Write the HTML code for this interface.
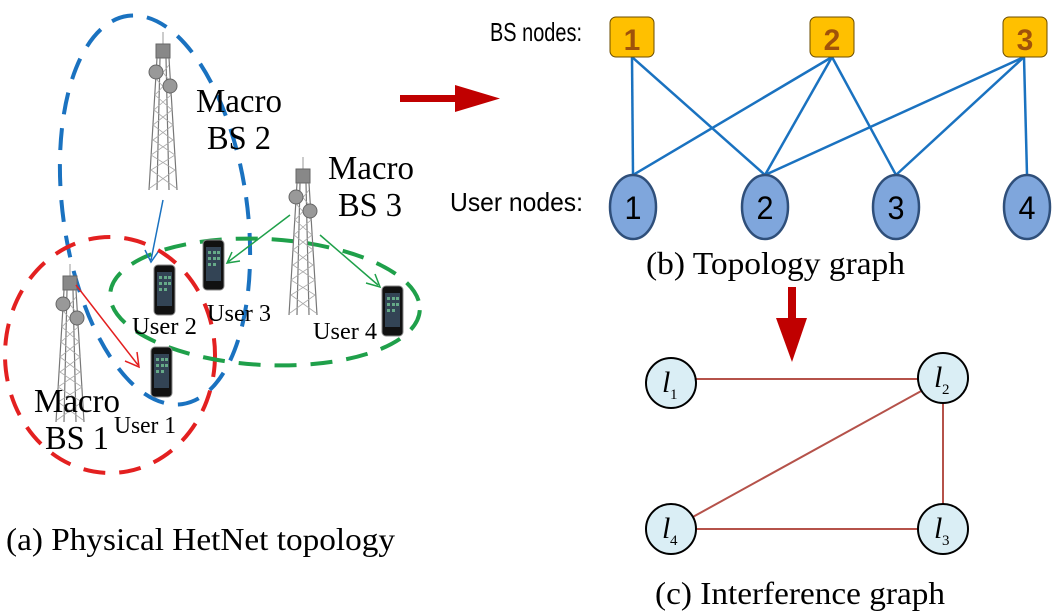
<!DOCTYPE html>
<html><head><meta charset="utf-8"><style>
html,body{margin:0;padding:0;background:#fff;}
svg{display:block;}
.ser{font-family:"Liberation Serif",serif;fill:#000;}
.san{font-family:"Liberation Sans",sans-serif;fill:#000;}
</style></head><body>
<svg width="1058" height="615" viewBox="0 0 1058 615" xmlns="http://www.w3.org/2000/svg">
<defs>
<g id="tower">
  <line x1="0" y1="-8" x2="0" y2="4" stroke="#999" stroke-width="1"/>
  <rect x="-7" y="4" width="14" height="14" fill="#888" stroke="#666"/>
  <path d="M-6 18 L-14 150 M6 18 L14 150 M-3 18 L-6 150 M3 18 L6 150" stroke="#777" stroke-width="1.2" fill="none"/>
  <path d="M-6 25 L6 40 L-8 55 L9 70 L-10 85 L10 100 L-12 115 L12 130 L-13 148 M6 25 L-6 40 L8 55 L-9 70 L10 85 L-10 100 L12 115 L-12 130 L13 148" stroke="#aaa" stroke-width="0.8" fill="none"/>
  <circle cx="-7" cy="32" r="7" fill="#999" stroke="#666"/>
  <circle cx="7" cy="46" r="7" fill="#999" stroke="#666"/>
</g>
<g id="phone">
  <rect x="-10" y="-25" width="21" height="50" rx="4" fill="#111" stroke="#888"/>
  <rect x="-7" y="-18" width="15" height="34" fill="#345"/>
  <g fill="#6a8">
  <rect x="-5" y="-14" width="3" height="3"/><rect x="0" y="-14" width="3" height="3"/><rect x="4" y="-14" width="3" height="3"/>
  <rect x="-5" y="-8" width="3" height="3"/><rect x="0" y="-8" width="3" height="3"/><rect x="4" y="-8" width="3" height="3"/>
  <rect x="-5" y="-2" width="3" height="3"/><rect x="0" y="-2" width="3" height="3"/>
  </g>
</g>
</defs>

<ellipse cx="155" cy="210" rx="92" ry="196" transform="rotate(-8 155 210)" fill="none" stroke="#1a72c0" stroke-width="4" stroke-dasharray="22 14"/>
<ellipse cx="110" cy="355" rx="105" ry="118" fill="none" stroke="#e32020" stroke-width="4" stroke-dasharray="22 14"/>
<ellipse cx="265" cy="302" rx="155" ry="63" transform="rotate(3 265 302)" fill="none" stroke="#1fa04a" stroke-width="4" stroke-dasharray="22 14"/>

<use href="#tower" x="163" y="40"/>
<use href="#tower" x="303" y="165"/>
<use href="#tower" x="70" y="272"/>

<use href="#phone" x="164" y="290"/>
<use href="#phone" x="213" y="265"/>
<use href="#phone" x="392" y="311"/>
<use href="#phone" x="161" y="372"/>

<g stroke-width="1.5" fill="none">
<path d="M163 200 L151 260 M145 250 L151 262 L158 252" stroke="#1a72c0"/>
<path d="M290 215 L228 262 M232 252 L227 263 L240 261" stroke="#1fa04a"/>
<path d="M320 235 L378 285 M366 283 L380 287 L375 274" stroke="#1fa04a"/>
<path d="M76 285 L138 365 M125 361 L139 367 L137 352" stroke="#e32020"/>
</g>

<g class="ser" font-size="34">
<text x="196" y="112" textLength="86" lengthAdjust="spacingAndGlyphs">Macro</text>
<text x="207" y="149" textLength="64" lengthAdjust="spacingAndGlyphs">BS 2</text>
<text x="328" y="179" textLength="86" lengthAdjust="spacingAndGlyphs">Macro</text>
<text x="338" y="216" textLength="64" lengthAdjust="spacingAndGlyphs">BS 3</text>
<text x="34" y="412" textLength="86" lengthAdjust="spacingAndGlyphs">Macro</text>
<text x="45" y="449" textLength="64" lengthAdjust="spacingAndGlyphs">BS 1</text>
</g>
<g class="ser" font-size="24">
<text x="132" y="334" textLength="65" lengthAdjust="spacingAndGlyphs">User 2</text>
<text x="207" y="321" textLength="64" lengthAdjust="spacingAndGlyphs">User 3</text>
<text x="313" y="339" textLength="64" lengthAdjust="spacingAndGlyphs">User 4</text>
<text x="114" y="433" textLength="62" lengthAdjust="spacingAndGlyphs">User 1</text>
</g>
<text class="ser" x="6" y="550" font-size="32" textLength="389" lengthAdjust="spacingAndGlyphs">(a) Physical HetNet topology</text>

<rect x="400" y="95" width="60" height="7" fill="#c00000"/>
<polygon points="455,85 500,98.5 455,112" fill="#c00000"/>

<g stroke="#1a72c0" stroke-width="2.5">
<line x1="632" y1="57" x2="633" y2="175"/>
<line x1="632" y1="57" x2="765" y2="175"/>
<line x1="832" y1="57" x2="633" y2="175"/>
<line x1="832" y1="57" x2="765" y2="175"/>
<line x1="832" y1="57" x2="896" y2="175"/>
<line x1="1024" y1="57" x2="765" y2="175"/>
<line x1="1024" y1="57" x2="896" y2="175"/>
<line x1="1024" y1="57" x2="1027" y2="175"/>
</g>
<g fill="#ffc000" stroke="#6b4c00" stroke-width="1">
<rect x="610" y="17" width="44" height="40" rx="6"/>
<rect x="810" y="17" width="44" height="40" rx="6"/>
<rect x="1003" y="17" width="44" height="40" rx="6"/>
</g>
<g font-family="Liberation Sans, sans-serif" font-weight="bold" font-size="30" fill="#a0520a" text-anchor="middle">
<text x="632" y="50">1</text><text x="832" y="50">2</text><text x="1025" y="50">3</text>
</g>
<g fill="#7fa6dc" stroke="#2f4f7a" stroke-width="2.5">
<ellipse cx="633" cy="207" rx="23" ry="32"/>
<ellipse cx="765" cy="207" rx="23" ry="32"/>
<ellipse cx="896" cy="207" rx="23" ry="32"/>
<ellipse cx="1027" cy="207" rx="23" ry="32"/>
</g>
<g font-family="Liberation Sans, sans-serif" font-size="32" fill="#000" text-anchor="middle">
<text x="633" y="219" textLength="17" lengthAdjust="spacingAndGlyphs">1</text><text x="765" y="219" textLength="17" lengthAdjust="spacingAndGlyphs">2</text><text x="896" y="219" textLength="17" lengthAdjust="spacingAndGlyphs">3</text><text x="1027" y="219" textLength="17" lengthAdjust="spacingAndGlyphs">4</text>
</g>
<text class="san" x="490" y="41" font-size="26" textLength="92" lengthAdjust="spacingAndGlyphs">BS nodes:</text>
<text class="san" x="450" y="211" font-size="26" textLength="133" lengthAdjust="spacingAndGlyphs">User nodes:</text>
<text class="ser" x="646" y="274" font-size="32" textLength="259" lengthAdjust="spacingAndGlyphs">(b) Topology graph</text>

<rect x="788" y="287" width="8" height="33" fill="#c00000"/>
<polygon points="776,318 807,318 792,362" fill="#c00000"/>

<g stroke="#b5524a" stroke-width="2">
<line x1="671" y1="379" x2="943" y2="379"/>
<line x1="943" y1="379" x2="943" y2="529"/>
<line x1="943" y1="379" x2="671" y2="529"/>
<line x1="671" y1="529" x2="943" y2="529"/>
</g>
<g fill="#daeef5" stroke="#000" stroke-width="2">
<circle cx="671" cy="383" r="25"/>
<circle cx="943" cy="378" r="25"/>
<circle cx="671" cy="529" r="25"/>
<circle cx="943" cy="529" r="25"/>
</g>
<g class="ser" font-style="italic" font-size="30">
<text x="662" y="392">l</text><text x="934" y="387">l</text><text x="662" y="538">l</text><text x="934" y="538">l</text>
</g>
<g class="ser" font-size="15">
<text x="670" y="399">1</text><text x="942" y="394">2</text><text x="670" y="545">4</text><text x="942" y="545">3</text>
</g>
<text class="ser" x="655" y="604" font-size="32" textLength="290" lengthAdjust="spacingAndGlyphs">(c) Interference graph</text>
</svg>
</body></html>
